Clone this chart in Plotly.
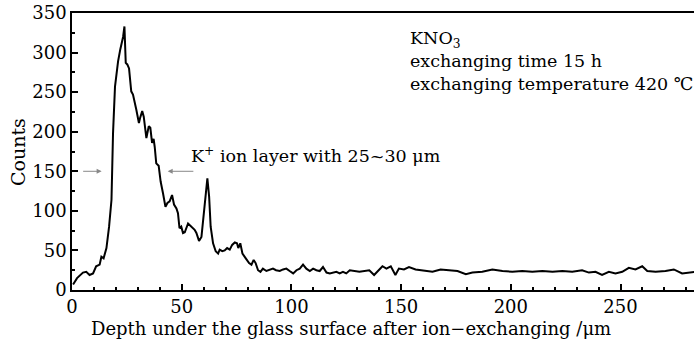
import plotly.graph_objects as go

depth = [0.5, 2.3, 5, 6.5, 8, 9.6, 11, 12.6, 13.4, 14.4, 15.7, 16.9, 18, 18.7, 19.6, 21, 22, 23.3, 23.9,
         24.5, 25.2, 26, 27, 27.8, 29.3, 30.5, 31, 32, 32.7, 33.9, 35, 35.7, 36.5, 37.2, 37.7, 38.4, 39.5,
         40.4, 41.5, 42.6, 43.5, 44.5, 45.6, 46.5, 47.6, 48.3, 49, 49.8, 50.6, 51.4, 52.9, 54.4, 55.9,
         56.7, 57.9, 59, 60, 61, 61.7, 62.5, 63.2, 64.3, 65.5, 66.6, 67.3, 68.5, 69.6, 70.7, 71.9, 73,
         74.2, 75.2, 75.8, 76.7, 77.7, 79.2, 80.7, 81.8, 82.8, 83.7, 84.8, 85.9, 87, 88.6, 90, 91.6, 93,
         94.7, 96.2, 97.7, 99.2, 100.8, 102.3, 103.8, 105.3, 106.8, 108.4, 109.9, 111.4, 112.9, 114.4,
         116, 117.5, 119, 120.5, 122, 123.5, 125, 126.6, 131, 135.5, 137.7, 140, 141.5, 143.3, 145.3,
         147.4, 149, 151.3, 153.6, 156.6, 160.5, 164.3, 168, 171.9, 175.7, 179.5, 182.5, 187, 191.6,
         196.2, 200.7, 205.2, 209.8, 214.4, 219, 223.5, 228, 232.5, 235.6, 238.6, 241.6, 244.7, 247.7,
         250.8, 253.8, 256.8, 259.9, 262.2, 266, 270.5, 274.3, 278.1, 282.6, 287]
counts = [7, 15, 22, 23, 19, 21, 30, 32, 42, 40, 53, 80, 114, 198, 257, 289, 304, 320, 333,
          287, 285, 280, 251, 247, 228, 211, 217, 226, 219, 192, 207, 205, 186, 191, 181, 160, 157,
          137, 122, 105, 110, 112, 120, 108, 103, 97, 78, 80, 72, 73, 84, 80, 76,
          72, 62, 67, 93, 118, 141, 118, 80, 59, 49, 46, 51, 49, 50, 53, 51, 57,
          60, 59, 53, 59, 46, 40, 34, 32, 38, 34, 25, 23, 27, 24, 25, 27, 25,
          24, 26, 27, 24, 21, 25, 27, 32, 27, 24, 27, 25, 24, 29,
          22, 21, 22, 23, 21, 23, 21, 25, 23, 25, 19, 26, 30, 27, 30,
          19, 27, 26, 29, 26, 24, 23, 26, 25, 24, 20, 22, 23, 26,
          24, 23, 24, 23, 24, 23, 24, 23, 25, 22, 23, 19, 23, 21,
          23, 28, 26, 30, 24, 23, 24, 26, 21, 23, 24]

x_ticks = [0, 50, 100, 150, 200, 250]
y_ticks = [0, 50, 100, 150, 200, 250, 300, 350]

FONT = "DejaVu Serif"

fig = go.Figure()
fig.add_trace(go.Scatter(x=depth, y=counts, mode="lines",
                         line=dict(color="black", width=2), showlegend=False))

axis_common = dict(showgrid=False, zeroline=False, showline=True, linecolor="black", linewidth=1.5,
                   ticks="inside", ticklen=6, tickwidth=1.5, tickcolor="black",
                   tickfont=dict(family=FONT, size=18, color="black"))

fig.update_xaxes(range=[0, 283.5], tickvals=x_ticks, mirror=True,
                 minor=dict(dtick=10, ticks="inside", ticklen=3, tickwidth=1.5, tickcolor="black"),
                 **axis_common)
fig.update_yaxes(range=[0, 350], tickvals=y_ticks, mirror=False,
                 minor=dict(dtick=25, ticks="inside", ticklen=3, tickwidth=1.5, tickcolor="black"),
                 **axis_common)

fig.add_annotation(x=153, y=333, xref="x", yref="y", xanchor="left", yanchor="top", align="left",
                   showarrow=False,
                   text="KNO<sub>3</sub><br>exchanging time 15 h<br>exchanging temperature 420 ℃",
                   font=dict(family=FONT, size=17.5, color="black"))
fig.add_annotation(x=53.5, y=154, xref="x", yref="y", xanchor="left", yanchor="bottom", showarrow=False,
                   text="K<sup>+</sup> ion layer with 25~30 μm",
                   font=dict(family=FONT, size=17.5, color="black"))
# arrows
fig.add_annotation(x=13.5, y=150, ax=4.4, ay=150, xref="x", yref="y", axref="x", ayref="y",
                   text="", showarrow=True, arrowhead=2, arrowsize=1, arrowwidth=1, arrowcolor="#888888")
fig.add_annotation(x=43.6, y=150, ax=56, ay=150, xref="x", yref="y", axref="x", ayref="y",
                   text="", showarrow=True, arrowhead=2, arrowsize=1, arrowwidth=1, arrowcolor="#888888")

fig.add_annotation(x=(18 - 72) / 622, y=(290 - 152) / 277, xref="paper", yref="paper", textangle=-90,
                   xanchor="center", yanchor="middle", showarrow=False,
                   text="Counts", font=dict(family=FONT, size=19, color="black"))
fig.add_annotation(x=(351 - 72) / 622, y=-(316 - 290) / 277, xref="paper", yref="paper",
                   xanchor="center", yanchor="top", showarrow=False,
                   text="Depth under the glass surface after ion−exchanging /μm",
                   font=dict(family=FONT, size=18, color="black"))

fig.update_layout(width=694, height=343, margin=dict(l=72, r=0, t=13, b=53),
                  plot_bgcolor="white", paper_bgcolor="white")

fig.write_html("out.html")
